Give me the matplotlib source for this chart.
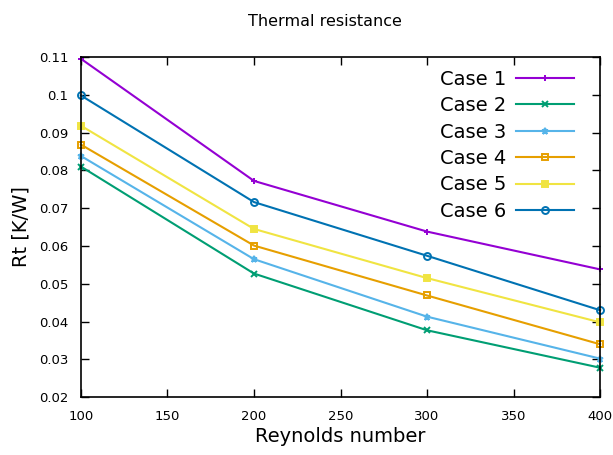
import numpy as np
import matplotlib.pyplot as plt
from matplotlib.ticker import FuncFormatter

# data
reynolds = [100, 200, 300, 400]
case1 = [0.1095, 0.0772, 0.0638, 0.0538]
case2 = [0.0810, 0.0527, 0.0377, 0.0278]
case3 = [0.0838, 0.0565, 0.0413, 0.0302]
case4 = [0.0868, 0.0601, 0.0469, 0.0340]
case5 = [0.0918, 0.0645, 0.0515, 0.0398]
case6 = [0.0998, 0.0716, 0.0574, 0.0430]
labels = ["Case 1", "Case 2", "Case 3", "Case 4", "Case 5", "Case 6"]

x_ticks = [100, 150, 200, 250, 300, 350, 400]
y_ticks = [0.02, 0.03, 0.04, 0.05, 0.06, 0.07, 0.08, 0.09, 0.1, 0.11]

# gnuplot-like styles
colors = ["#9400d3", "#009e73", "#56b4e9", "#e69f00", "#f0e442", "#0072b2"]
markers = ["+", "x", "*", "s", "s", "o"]
fills = ["full", "full", "full", "none", "full", "none"]

fig = plt.figure(figsize=(6.13, 4.55), dpi=100)
ax = fig.add_axes([0.132, 0.127, 0.847, 0.748])

series = [case1, case2, case3, case4, case5, case6]
for vals, lab, c, m, f in zip(series, labels, colors, markers, fills):
    ax.plot(reynolds, vals, color=c, marker=m, fillstyle=f, markersize=5,
            markeredgewidth=1.4, linewidth=1.5, label=lab, clip_on=False)

ax.set_xlim(100, 400)
ax.set_ylim(0.02, 0.11)
ax.set_xticks(x_ticks)
ax.set_yticks(y_ticks)
ax.yaxis.set_major_formatter(FuncFormatter(lambda v, p: "%g" % v))
ax.tick_params(direction="in", top=True, right=True, length=6, width=1,
               labelsize=9.5, pad=9)
for s in ax.spines.values():
    s.set_linewidth(1.2)

ax.set_xlabel("Reynolds number", fontsize=14, labelpad=3)
ax.set_ylabel("Rt [K/W]", fontsize=14, labelpad=6)
ax.set_title("Thermal resistance", fontsize=11.5, pad=22, x=0.47)

ax.legend(loc="upper right", frameon=False, markerfirst=False, fontsize=14,
          handlelength=3.0, handletextpad=0.5, labelspacing=0.38,
          borderaxespad=0.0, bbox_to_anchor=(0.965, 0.985))

fig.savefig("out.png", dpi=100)
